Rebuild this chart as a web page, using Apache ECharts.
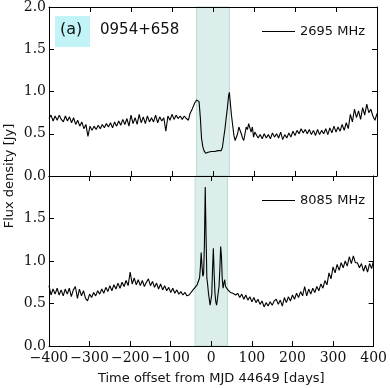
<!DOCTYPE html>
<html>
<head>
<meta charset="utf-8">
<script src="https://cdn.jsdelivr.net/npm/echarts@6/dist/echarts.min.js"></script>
<style>
  html, body { margin: 0; padding: 0; background: #fff; }
  #main { width: 390px; height: 388px; }
</style>
</head>
<body>
<div id="main"></div>
<script>
// 2695 MHz light curve (days from MJD 44649, flux in Jy)
var days2695 = [
  -400, -395, -390, -385, -380, -375, -370, -365, -360, -355, -350, -345, -340, -335, -330, -325, -320, -315, -310, -305,
  -300, -295, -290, -285, -280, -275, -270, -265, -260, -255, -250, -245, -240, -235, -230, -225, -220, -215, -210, -205,
  -200, -195, -190, -185, -180, -175, -170, -165, -160, -155, -150, -145, -140, -135, -130, -125, -120, -115, -110, -105,
  -100, -95, -90, -85, -80, -75, -70, -65, -60,
  -56, -50, -45, -40, -37, -34, -31, -28, -25, -22, -18, -15, -12, -8, -4, 0, 4, 8, 12, 16, 20, 23, 26, 29, 32, 35, 38, 40,
  42, 45, 48, 51, 54, 57, 60, 63, 66, 69, 72, 75, 78, 81, 84, 87, 90, 93, 96, 99, 102,
  105, 110, 115, 120, 125, 130, 135, 140, 145, 150, 155, 160, 165, 170, 175, 180, 185, 190, 195, 200,
  205, 210, 215, 220, 225, 230, 235, 240, 245, 250, 255, 260, 265, 270, 275, 280, 285, 290, 295, 300,
  305, 310, 315, 320, 325, 330, 335, 340, 345, 350, 355, 360, 365, 370, 375, 380, 385, 390, 395, 400
];
var flux2695 = [
  0.68, 0.72, 0.65, 0.71, 0.66, 0.72, 0.67, 0.64, 0.71, 0.65, 0.70, 0.63, 0.69, 0.61, 0.66, 0.59, 0.64, 0.56, 0.61, 0.47,
  0.59, 0.54, 0.59, 0.55, 0.60, 0.56, 0.61, 0.57, 0.62, 0.58, 0.63, 0.57, 0.64, 0.59, 0.65, 0.60, 0.67, 0.61, 0.68, 0.59,
  0.72, 0.62, 0.69, 0.61, 0.73, 0.63, 0.70, 0.62, 0.71, 0.64, 0.69, 0.64, 0.72, 0.63, 0.70, 0.65, 0.69, 0.53, 0.71, 0.66,
  0.73, 0.67, 0.72, 0.68, 0.71, 0.67, 0.71, 0.68, 0.66,
  0.74, 0.80, 0.86, 0.90, 0.92, 0.88, 0.70, 0.45, 0.35, 0.30, 0.27, 0.26, 0.28, 0.27, 0.29, 0.28, 0.29, 0.28, 0.30, 0.29, 0.30, 0.34, 0.45, 0.55, 0.68, 0.80, 0.95, 0.99,
  0.88, 0.72, 0.60, 0.48, 0.42, 0.40, 0.50, 0.58, 0.60, 0.50, 0.45, 0.42, 0.50, 0.58, 0.55, 0.62, 0.64, 0.52, 0.58, 0.46, 0.52,
  0.50, 0.45, 0.49, 0.44, 0.50, 0.45, 0.49, 0.44, 0.51, 0.46, 0.50, 0.45, 0.52, 0.43, 0.49, 0.45, 0.51, 0.46, 0.53, 0.48,
  0.54, 0.50, 0.56, 0.51, 0.55, 0.50, 0.55, 0.49, 0.54, 0.48, 0.55, 0.49, 0.54, 0.50, 0.56, 0.49, 0.57, 0.51, 0.59, 0.52,
  0.58, 0.53, 0.61, 0.54, 0.63, 0.56, 0.73, 0.64, 0.79, 0.69, 0.77, 0.67, 0.81, 0.72, 0.85, 0.75, 0.79, 0.71, 0.66, 0.74
];

// 8085 MHz light curve
var days8085 = [
  -400, -395, -390, -385, -380, -375, -370, -365, -360, -355, -350, -345, -340, -335, -330, -325, -320, -315, -310, -305,
  -300, -295, -290, -285, -280, -275, -270, -265, -260, -255, -250, -245, -240, -235, -230, -225, -220, -215, -210, -205,
  -200, -195, -190, -185, -180, -175, -170, -165, -160, -155, -150, -145, -140, -135, -130, -125, -120, -115, -110, -105,
  -100, -95, -90, -85, -80, -75, -70, -65, -60, -55,
  -45, -40, -35, -32, -29, -27, -25, -23, -21, -19, -17, -15, -13, -11, -9, -7, -5, -3, -1, 1, 3, 5, 7, 9, 11, 13, 15,
  17, 19, 21, 23, 25, 27, 29, 31, 33, 35, 38, 41, 44, 47, 50, 53, 56, 60,
  65, 70, 75, 80, 85, 90, 95, 100, 105, 110, 115, 120, 125, 130, 135, 140, 145, 150, 155, 160,
  165, 170, 175, 180, 185, 190, 195, 200, 205, 210, 215, 220, 225, 230, 235, 240, 245, 250, 255, 260,
  265, 270, 275, 280, 285, 290, 295, 300, 305, 310, 315, 320, 325, 330, 335, 340, 345, 350, 355, 360,
  365, 370, 375, 380, 385, 390, 395, 400
];
var flux8085 = [
  0.71, 0.60, 0.67, 0.61, 0.68, 0.60, 0.66, 0.59, 0.67, 0.61, 0.68, 0.58, 0.66, 0.70, 0.56, 0.67, 0.59, 0.65, 0.56, 0.53,
  0.61, 0.57, 0.63, 0.59, 0.65, 0.61, 0.67, 0.62, 0.69, 0.64, 0.71, 0.65, 0.72, 0.67, 0.74, 0.68, 0.75, 0.70, 0.77, 0.71,
  0.87, 0.73, 0.80, 0.72, 0.78, 0.71, 0.77, 0.70, 0.75, 0.79, 0.71, 0.76, 0.69, 0.74, 0.67, 0.73, 0.66, 0.71, 0.65, 0.69,
  0.63, 0.68, 0.62, 0.66, 0.61, 0.64, 0.60, 0.63, 0.59, 0.60,
  0.66, 0.69, 0.72, 0.74, 0.80, 0.92, 1.10, 0.95, 0.82, 0.85, 1.20, 1.87, 1.30, 0.80, 0.72, 0.62, 0.55, 0.48, 0.46, 0.60, 0.90, 1.15, 0.85, 0.62, 0.52, 0.48, 0.55,
  0.63, 0.70, 0.90, 1.17, 1.05, 0.78, 0.68, 0.74, 0.78, 0.70, 0.72, 0.66, 0.68, 0.63, 0.65, 0.62, 0.64, 0.60,
  0.62, 0.57, 0.61, 0.55, 0.60, 0.54, 0.58, 0.52, 0.57, 0.51, 0.55, 0.49, 0.53, 0.46, 0.51, 0.47, 0.52, 0.48, 0.53, 0.55,
  0.49, 0.54, 0.47, 0.57, 0.51, 0.58, 0.53, 0.60, 0.55, 0.62, 0.57, 0.64, 0.59, 0.70, 0.59, 0.67, 0.61, 0.68, 0.63, 0.70,
  0.65, 0.73, 0.68, 0.77, 0.72, 0.86, 0.79, 0.93, 0.86, 0.96, 0.89, 0.98, 0.92, 1.00, 0.94, 1.05, 0.97, 1.06, 0.98, 0.98,
  0.92, 0.97, 0.88, 0.95, 0.87, 0.97, 0.91, 1.01
];

var flareWindow = [-40, 40];
var xTicks = { min: -400, max: 400, interval: 100 };
var yTicks = { min: 0, max: 2, interval: 0.5 };

function pairs(xs, ys) {
  var out = [];
  for (var i = 0; i < xs.length; i++) out.push([xs[i], ys[i]]);
  return out;
}

var serif = "DejaVu Serif";
var sans = "DejaVu Sans";

function xAxisCfg(grid, pos, labels) {
  return {
    type: "value", gridIndex: grid, position: pos, z: 10,
    min: xTicks.min, max: xTicks.max, interval: xTicks.interval,
    axisLine: { show: true, onZero: false, lineStyle: { color: "#000", width: 1 } },
    axisTick: { show: true, inside: true, length: 5, lineStyle: { color: "#000" } },
    axisLabel: {
      show: labels, margin: 5, fontFamily: serif, fontSize: 14, color: "#111",
      formatter: function (v) { return String(v).replace("-", "\u2212"); }
    },
    splitLine: { show: false }
  };
}

function yAxisCfg(grid, pos, labels, hideTop) {
  return {
    type: "value", gridIndex: grid, position: pos, z: 10,
    min: yTicks.min, max: yTicks.max, interval: yTicks.interval,
    axisLine: { show: true, onZero: false, lineStyle: { color: "#000", width: 1 } },
    axisTick: { show: true, inside: true, length: 5, lineStyle: { color: "#000" } },
    axisLabel: {
      show: labels, margin: 3, fontFamily: serif, fontSize: 14, color: "#111",
      formatter: function (v) { return hideTop && v >= 2 ? "" : v.toFixed(1); }
    },
    splitLine: { show: false }
  };
}

function band() {
  return {
    silent: true,
    itemStyle: { color: "#dbeeeb", borderColor: "#bcdcd6", borderWidth: 1, opacity: 1 },
    data: [[{ xAxis: flareWindow[0] }, { xAxis: flareWindow[1] }]]
  };
}

var chart = echarts.init(document.getElementById("main"));
chart.setOption({
  animation: false,
  grid: [
    { left: 49, top: 6, width: 328, height: 170 },
    { left: 49, top: 176, width: 328, height: 170 }
  ],
  xAxis: [
    xAxisCfg(0, "bottom", false),
    xAxisCfg(0, "top", false),
    Object.assign(xAxisCfg(1, "bottom", true), {
      name: "Time offset from MJD 44649 [days]", nameLocation: "middle", nameGap: 26,
      nameTextStyle: { fontFamily: sans, fontSize: 13, color: "#111" }
    }),
    xAxisCfg(1, "top", false)
  ],
  yAxis: [
    yAxisCfg(0, "left", true, false),
    yAxisCfg(0, "right", false, false),
    yAxisCfg(1, "left", true, true),
    yAxisCfg(1, "right", false, false)
  ],
  legend: [
    {
      data: ["2695 MHz"], left: 257, top: 20, itemWidth: 33, itemHeight: 1, icon: "rect",
      textStyle: { fontFamily: sans, fontSize: 13, color: "#111" }, itemGap: 4
    },
    {
      data: ["8085 MHz"], left: 257, top: 189, itemWidth: 33, itemHeight: 1, icon: "rect",
      textStyle: { fontFamily: sans, fontSize: 13, color: "#111" }, itemGap: 4
    }
  ],
  graphic: [
    {
      type: "text", rotation: Math.PI / 2, x: 3, y: 176,
      style: { text: "Flux density [Jy]", fontFamily: sans, fontSize: 13, fill: "#111", textAlign: "center", textVerticalAlign: "top" }
    },
    { type: "rect", shape: { x: 55, y: 16, width: 35, height: 31 }, style: { fill: "#c2f3f7" } },
    { type: "text", x: 60, y: 22, style: { text: "(a)", fontFamily: sans, fontSize: 16, fill: "#111" } },
    { type: "text", x: 100, y: 23, style: { text: "0954+658", fontFamily: sans, fontSize: 15, fill: "#111" } }
  ],
  series: [
    {
      name: "2695 MHz", type: "line", xAxisIndex: 0, yAxisIndex: 0,
      data: pairs(days2695, flux2695), showSymbol: false, symbol: "none",
      lineStyle: { color: "#000", width: 1.1 }, itemStyle: { color: "#000" },
      markArea: band()
    },
    {
      name: "8085 MHz", type: "line", xAxisIndex: 2, yAxisIndex: 2,
      data: pairs(days8085, flux8085), showSymbol: false, symbol: "none",
      lineStyle: { color: "#000", width: 1.1 }, itemStyle: { color: "#000" },
      markArea: band()
    }
  ]
});
</script>
</body>
</html>
